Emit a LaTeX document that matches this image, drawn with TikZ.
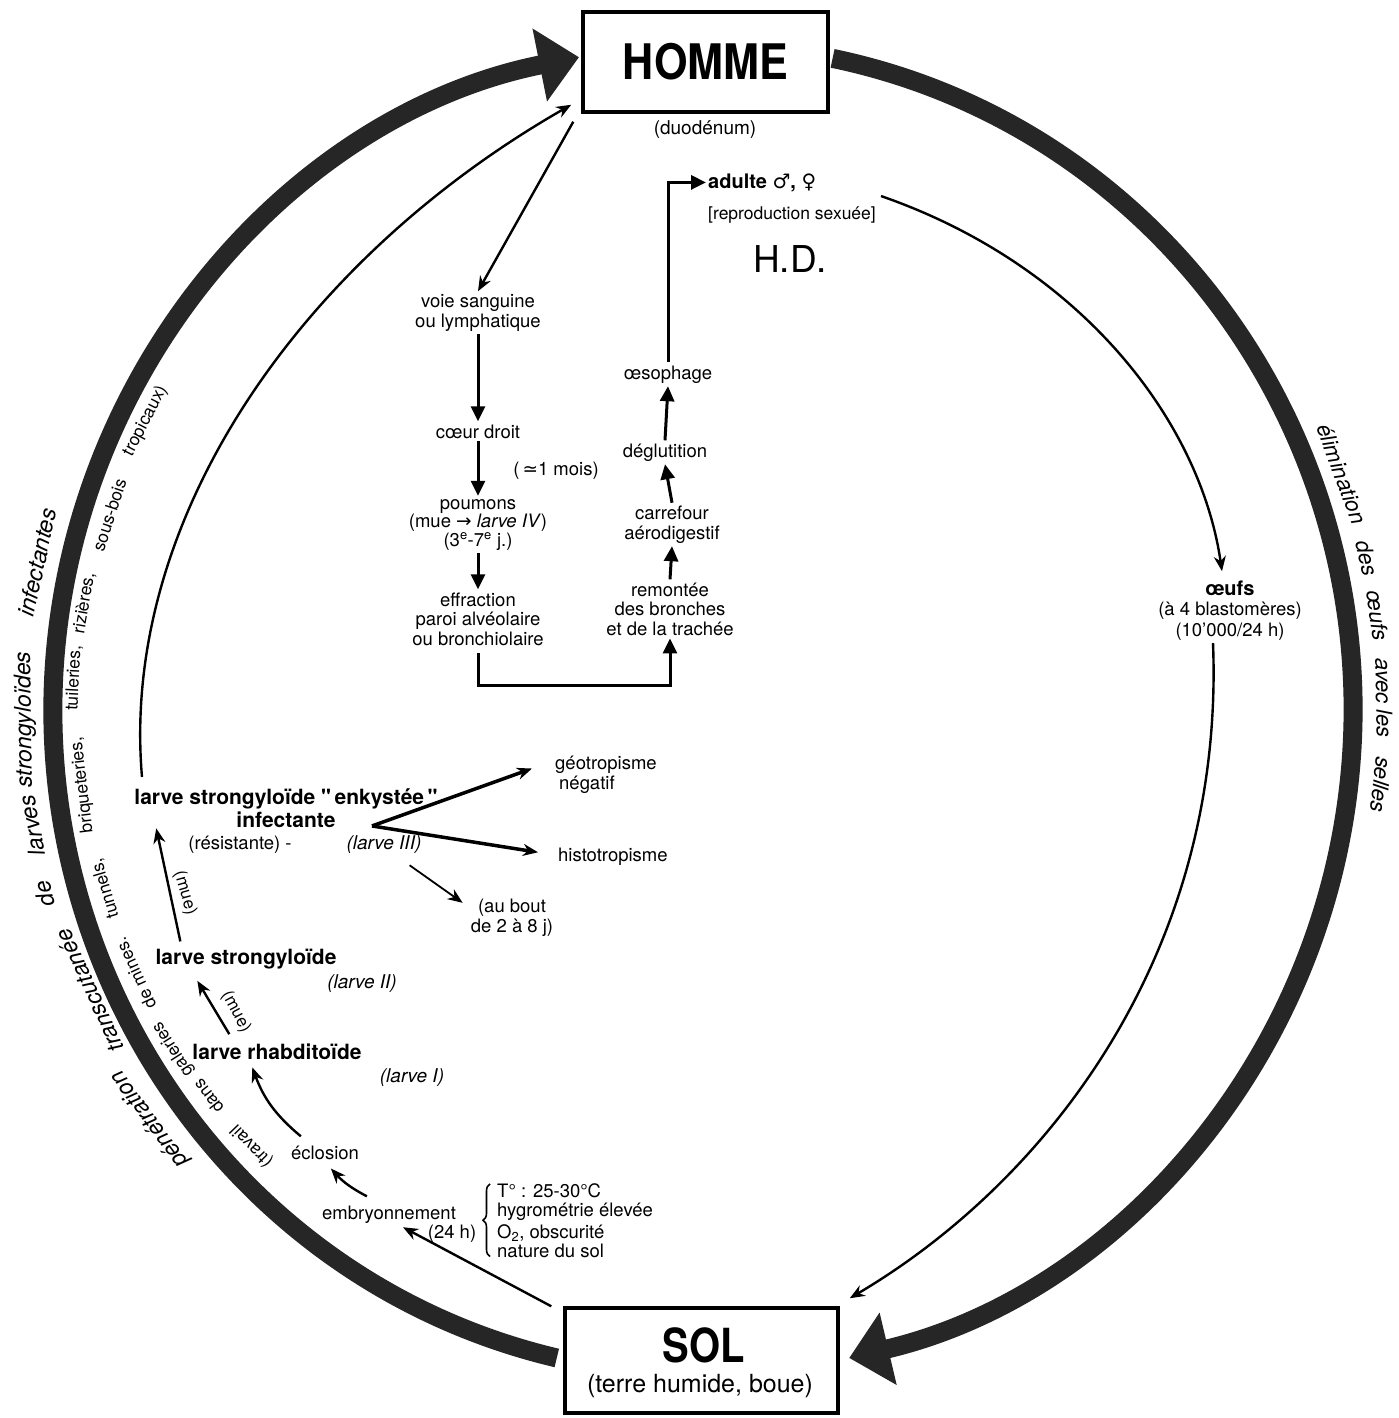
\documentclass[tikz,border=0pt]{standalone}
\usepackage{fontspec}
\setmainfont{TeX Gyre Heros}
\newfontfamily\symfont{DejaVu Sans}
\usetikzlibrary{arrows.meta,decorations.pathreplacing}

% a word set along the big cycle, centred at polar angle #2, distance #3 from C
\newcommand\arcword[5]{\node[#1, rotate=#2-90] (#5) at ([shift={(#2:#3pt)}]C) {#4};}

\begin{document}
\begin{tikzpicture}[x=1pt,y=-1pt,
  lbl/.style={inner sep=3pt, align=center, font=\fontsize{18.5}{19.5}\selectfont},
  blbl/.style={inner sep=3pt, align=center, font=\fontsize{21}{23}\selectfont\bfseries},
  ilbl/.style={inner sep=3pt, font=\fontsize{19}{21}\selectfont\itshape},
  mulbl/.style={inner sep=1pt, font=\fontsize{17}{17}\selectfont},
  outerword/.style={inner sep=0pt, font=\fontsize{23}{25}\selectfont\itshape},
  rightword/.style={inner sep=0pt, font=\fontsize{22}{24}\selectfont\itshape},
  innerword/.style={inner sep=0pt, font=\fontsize{17.5}{19}\selectfont},
  mainbox/.style={draw, line width=3.5pt, inner sep=0pt},
  cyclearrow/.style={line width=19pt, draw=black!85,
    -{Triangle[length=40pt,width=72pt,fill=black!85]}},
  link/.style={line width=2.4pt, -{Stealth[length=15pt,width=12pt]}},
  flow/.style={line width=3pt, -{Triangle[length=15pt,width=14pt]}},
]
\useasboundingbox (0,0) rectangle (1398,1418);
\fill[white] (0,0) rectangle (1398,1418);

\coordinate (C) at (703,710);

% ---------- the two hosts ----------
\node[mainbox, minimum width=245pt, minimum height=100pt,
      font=\fontsize{49}{49}\selectfont\bfseries] (homme) at (705.5,62)
      {\scalebox{0.88}[1]{HOMME}};
\node[lbl, font=\fontsize{19}{20}\selectfont] (duod) at (705,130) {(duodénum)};

\node[mainbox, minimum width=273pt, minimum height=105pt] (sol) at (701.5,1360.5) {};
\node[inner sep=0pt, font=\fontsize{47}{47}\selectfont\bfseries] (solt) at (704,1345)
      {\scalebox{0.85}[1]{SOL}};
\node[inner sep=0pt, font=\fontsize{25}{25}\selectfont] (solsub) at (700,1386)
      {(terre humide, boue)};

% ---------- big cycle ----------
\draw[cyclearrow] ([shift={(257:650pt and 665pt)}]C)
  arc[start angle=257, end angle=101, x radius=650pt, y radius=665pt];
\draw[cyclearrow] ([shift={(78.5:650pt and 665pt)}]C)
  arc[start angle=78.5, end angle=-77, x radius=650pt, y radius=665pt];

% ---------- migration through the body ----------
% (multi-line labels are placed by the baseline of their last line)
\node[lbl, anchor=base] (voie) at (478,327) {voie sanguine\\ou lymphatique};
\node[lbl, anchor=base] (coeur) at (478,438) {cœur droit};
\node[lbl, anchor=base] (mois) at (556,475) {(\,{\symfont ≃}1 mois)};
\node[lbl, anchor=base, font=\fontsize{18.5}{18.5}\selectfont] (poum) at (478,546)
  {poumons\\(mue {\symfont →} \textit{larve IV})\\(3\textsuperscript{e}-7\textsuperscript{e} j.)};
\node[lbl, anchor=base] (effr) at (478,645) {effraction\\paroi alvéolaire\\ou bronchiolaire};
\node[lbl, anchor=base] (remont) at (670,635) {remontée\\des bronches\\et de la trachée};
\node[lbl, anchor=base] (carref) at (672,539) {carrefour\\aérodigestif};
\node[lbl, anchor=base] (deglu) at (665,457) {déglutition};
\node[lbl, anchor=base] (oeso) at (668,379) {œsophage};
\node[inner sep=2pt, anchor=base west, font=\fontsize{20}{20}\selectfont\bfseries] (adulte)
  at (706,188) {adulte {\symfont ♂}, {\symfont ♀}};
\node[lbl, anchor=base, font=\fontsize{17.5}{19}\selectfont] (repro) at (792,219)
  {[reproduction sexuée]};
\node[anchor=base, inner sep=0pt, font=\fontsize{37}{37}\selectfont] (hd) at (790,272) {H.D.};

\draw[link] ([shift={(-8,8)}]homme.south west) -- (voie.north);
\draw[flow] (voie.south) -- (coeur.north);
\draw[flow] (coeur.south) -- (poum.north);
\draw[flow] (poum.south) -- (effr.north);
\draw[flow] ([yshift=-5pt]effr.south) -- ++(0,32) -| (remont.south);
\draw[flow] (remont.north) -- (carref.south);
\draw[flow] (carref.north) -- (deglu.south);
\draw[flow] (deglu.north) -- (oeso.south);
\draw[flow] (oeso.north) |- (adulte.west);

% ---------- eggs ----------
\node[lbl, anchor=base, font=\fontsize{18.5}{20.5}\selectfont] (oeufs) at (1230,636)
  {{\bfseries\fontsize{20}{20.5}\selectfont œufs}\\(à 4 blastomères)\\(10’000/24 h)};
\draw[link] ([xshift=2pt,yshift=7pt]repro.north east)
  .. controls (1080,265) and (1200,420) .. ([xshift=-8pt,yshift=6pt]oeufs.north);
\draw[link] ([xshift=-17pt]oeufs.south)
  .. controls (1225,950) and (1050,1180) .. ([xshift=10pt,yshift=8pt]sol.north east);

% ---------- development in the soil ----------
\node[lbl, anchor=base] (embr) at (389,1219) {embryonnement};
\node[lbl, anchor=base] (h24) at (452,1238) {(24 h)};
\node[lbl, anchor=base west, align=left, font=\fontsize{18.5}{19}\selectfont] (cond) at (494,1257)
  {T° : 25-30°C\\hygrométrie élevée\\[3pt]O\textsubscript{2}, obscurité\\nature du sol};
\draw[line width=1.6pt, decorate, decoration={brace, amplitude=7pt}]
  ([xshift=-4pt,yshift=4pt]cond.south west) -- ([xshift=-4pt,yshift=-4pt]cond.north west);
\node[lbl, anchor=base] (eclos) at (325,1159) {éclosion};
\node[blbl, anchor=base] (l1name) at (277,1059) {larve rhabditoïde};
\node[ilbl, anchor=base] (l1) at (412,1082) {(larve I)};
\node[blbl, anchor=base] (l2name) at (246,964) {larve strongyloïde};
\node[ilbl, anchor=base] (l2) at (362,988) {(larve II)};
\node[blbl, anchor=base] (enk) at (286,827)
  {larve strongyloïde \textquotedbl\,enkystée\,\textquotedbl\\infectante};
\node[lbl, anchor=base] (resist) at (240,849) {(résistante) -};
\node[ilbl, anchor=base] (l3) at (384,849) {(larve III)};

\draw[link] ([xshift=-12pt]sol.north west) -- ([xshift=14pt,yshift=-1pt]embr.south);
\draw[link] ([xshift=48pt,yshift=6pt]embr.north west) to[bend left=10]
  ([xshift=43pt,yshift=-6pt]eclos.south west);
\draw[link] ([xshift=13pt,yshift=6pt]eclos.north west) to[bend left=15]
  ([xshift=63pt,yshift=-5pt]l1name.south west);
\draw[link] ([xshift=40pt,yshift=6pt]l1name.north west) --
  ([xshift=45pt,yshift=-9pt]l2name.south west);
\draw[link] ([xshift=28pt,yshift=4pt]l2name.north west) --
  ([xshift=25pt,yshift=2pt]enk.south west);
\node[mulbl, rotate=-62] (mueB) at (236,1012) {(mue)};
\node[mulbl, rotate=-74] (mueA) at (185,893) {(mue)};

% ---------- behaviour of the infective larva ----------
\node[lbl, anchor=base west, align=left] (geo) at (552,789) {géotropisme\\\hspace*{4pt}négatif};
\node[lbl, anchor=base west] (histo) at (555,861) {histotropisme};
\node[lbl, anchor=base] (aubout) at (512,932) {(au bout\\de 2 à 8 j)};
\coordinate (fork) at ([xshift=-12pt,yshift=6pt]l3.north);
\draw[link, line width=3.5pt] (fork) -- ([xshift=-20pt,yshift=6pt]geo.west);
\draw[link, line width=3.5pt] (fork) -- ([xshift=-17pt,yshift=4pt]histo.west);
\draw[link, line width=1.8pt] ([xshift=-15pt,yshift=-9pt]l3.south east) --
  ([xshift=-5pt,yshift=-7pt]aubout.north west);

% ---------- path of the infective larva back to man ----------
\coordinate (arcfoot) at (142,777);
\draw[link] (arcfoot) .. controls (120,520) and (300,260) ..
  ([shift={(-10,-9)}]homme.south west);

% ---------- captions along the cycle ----------
\arcword{rightword}{20.3}{681}{élimination}{wA}
\arcword{rightword}{12.9}{681}{des}{wB}
\arcword{rightword}{8.0}{681}{œufs}{wC}
\arcword{rightword}{1.0}{681}{avec les}{wD}
\arcword{rightword}{-6.3}{682}{selles}{wE}

\arcword{outerword}{216.5}{688}{pénétration}{pA}
\arcword{outerword}{204.6}{675}{transcutanée}{pB}
\arcword{outerword}{195.6}{684}{de}{pC}
\arcword{outerword}{189.8}{681}{larves}{pD}
\arcword{outerword}{180.8}{678}{strongyloïdes}{pE}
\arcword{outerword}{167.5}{682}{infectantes}{pF}

\arcword{innerword}{224.0}{627}{(travail}{iA}
\arcword{innerword}{218.0}{628}{dans}{iB}
\arcword{innerword}{212.6}{629}{galeries}{iC}
\arcword{innerword}{204.9}{626}{de mines.}{iD}
\arcword{innerword}{196.6}{624}{tunnels,}{iE}
\arcword{innerword}{186.9}{625}{briqueteries,}{iF}
\arcword{innerword}{177.1}{630}{tuileries,}{iG}
\arcword{innerword}{170.2}{628}{rizières,}{iH}
\arcword{innerword}{161.8}{625}{sous-bois}{iI}
\arcword{innerword}{152.6}{628}{tropicaux)}{iJ}
\end{tikzpicture}
\end{document}
